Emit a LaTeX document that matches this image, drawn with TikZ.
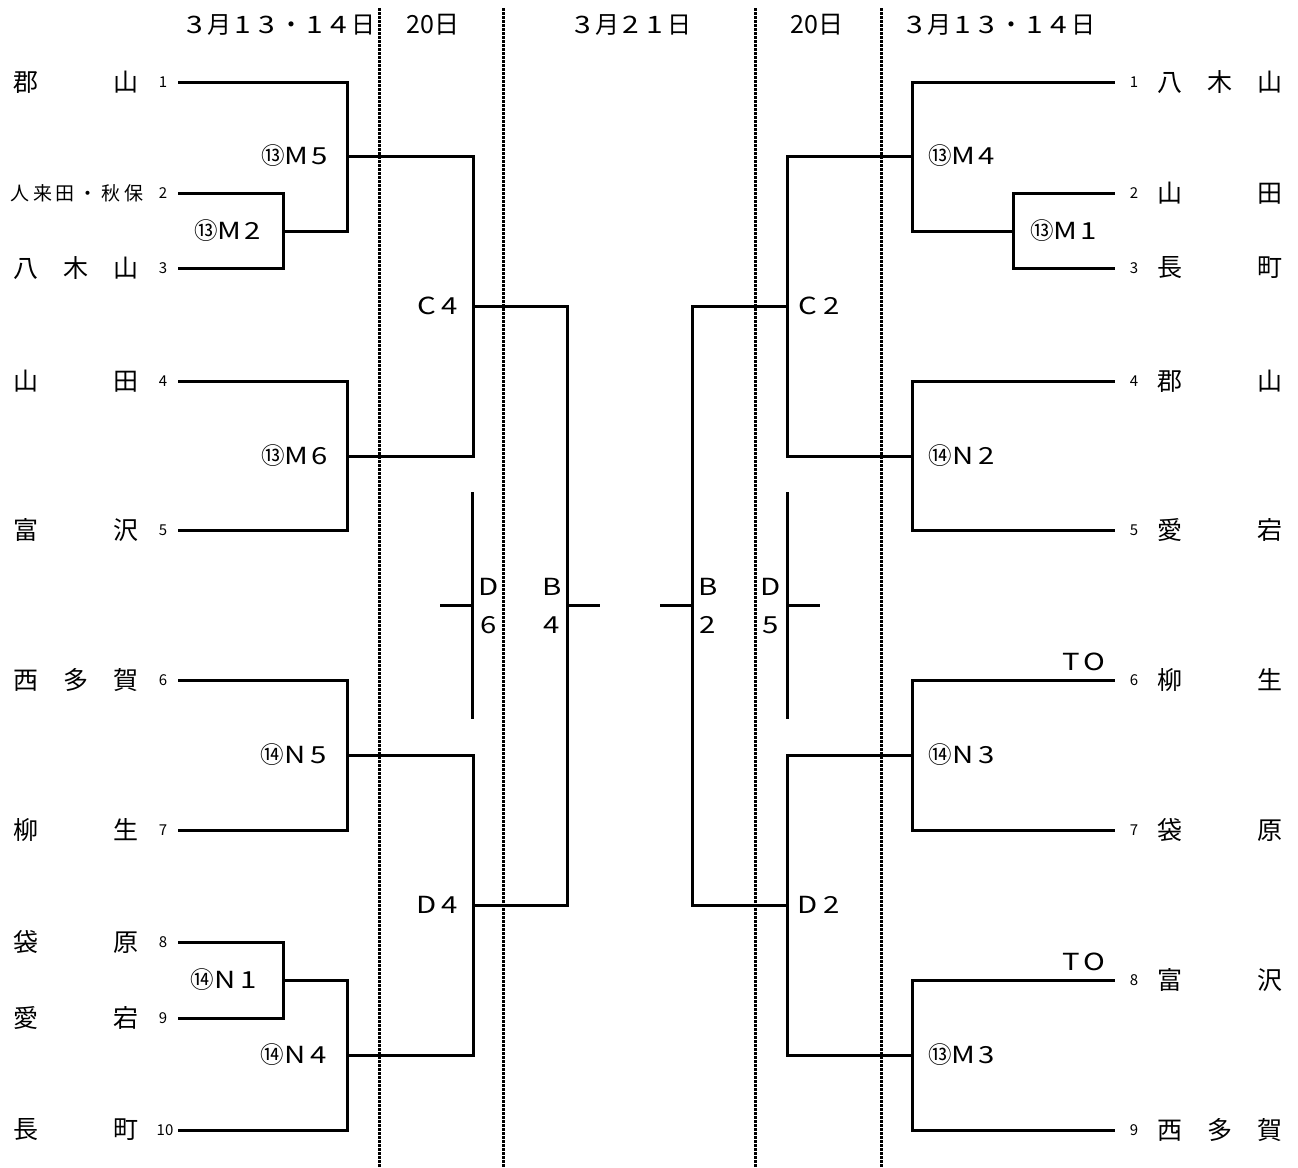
\documentclass[tikz,border=0pt]{standalone}
\usepackage{fontspec}
\setmainfont{Noto Sans CJK JP}
\newfontfamily\widefnt[FakeStretch=1.25]{Noto Sans CJK JP}
\newcommand{\fw}[1]{\makebox[1em]{\widefnt #1}}
\newcommand{\spr}[2]{\hbox to #1pt{#2}}
\newcommand{\twoL}[2]{\hbox to 125pt{#1\hfill #2}}
\newcommand{\threeL}[3]{\hbox to 125pt{#1\hfill #2\hfill #3}}
\begin{document}
\begin{tikzpicture}[x=1pt,y=-1pt,
  br/.style={line width=3pt,line join=miter,line cap=rect},
  dotline/.style={line width=3pt,dash pattern=on 2.5pt off 1.5pt},
  lbl/.style={font=\fontsize{23.5}{26}\selectfont,inner sep=0pt},
  hdr/.style={font=\fontsize{24}{28}\selectfont,inner sep=0pt},
  tnum/.style={font=\fontsize{15}{17}\selectfont,inner sep=0pt},
  tname/.style={font=\fontsize{25}{28}\selectfont,inner sep=0pt,anchor=west},
  small/.style={font=\fontsize{19}{22}\selectfont,inner sep=0pt,anchor=west}]
\useasboundingbox (0,0) rectangle (1298,1167);
% dotted separators
\foreach \xx/\nm in {379/s1,503/s2,755/s3,881/s4}{
  \coordinate (\nm t) at (\xx,8);
  \coordinate (\nm b) at (\xx,1167);
  \draw[dotline] (\nm t) -- (\nm b);
}
% headers
\node[hdr] (h1) at (279,25) {\fw{3}月\fw{1}\fw{3}・\fw{1}\fw{4}日};
\node[hdr,font=\fontsize{25}{28}\selectfont] (h2) at (433,25) {20日};
\node[hdr] (h3) at (631,25) {\fw{3}月\fw{2}\fw{1}日};
\node[hdr,font=\fontsize{25}{28}\selectfont] (h4) at (817,25) {20日};
\node[hdr] (h5) at (999,25) {\fw{3}月\fw{1}\fw{3}・\fw{1}\fw{4}日};
% left team names
\node[tname] (tl1) at (13,82) {\twoL{郡}{山}};
\node[small] (tl2) at (10,193) {\spr{133}{人\hfil 来\hfil 田\hfil ・\hfil 秋\hfil 保}};
\node[tname] (tl3) at (13,268) {\threeL{八}{木}{山}};
\node[tname] (tl4) at (13,381) {\twoL{山}{田}};
\node[tname] (tl5) at (13,530) {\twoL{富}{沢}};
\node[tname] (tl6) at (13,680) {\threeL{西}{多}{賀}};
\node[tname] (tl7) at (13,830) {\twoL{柳}{生}};
\node[tname] (tl8) at (13,942) {\twoL{袋}{原}};
\node[tname] (tl9) at (13,1018) {\twoL{愛}{宕}};
\node[tname] (tl10) at (13,1130) {\twoL{長}{町}};
% left numbers
\foreach \n/\yy in {1/82,2/193,3/268,4/381,5/530,6/680,7/830,8/942,9/1018}{
  \node[tnum] (nl\n) at (163,\yy) {\n};
  \coordinate (L\n) at (179,\yy);
}
\node[tnum] (nl10) at (165,1130) {10};
\coordinate (L10) at (179,1130);
% right team names
\node[tname] (tr1) at (1157,82) {\threeL{八}{木}{山}};
\node[tname] (tr2) at (1157,193) {\twoL{山}{田}};
\node[tname] (tr3) at (1157,268) {\twoL{長}{町}};
\node[tname] (tr4) at (1157,381) {\twoL{郡}{山}};
\node[tname] (tr5) at (1157,530) {\twoL{愛}{宕}};
\node[tname] (tr6) at (1157,680) {\twoL{柳}{生}};
\node[tname] (tr7) at (1157,830) {\twoL{袋}{原}};
\node[tname] (tr8) at (1157,980) {\twoL{富}{沢}};
\node[tname] (tr9) at (1157,1130) {\threeL{西}{多}{賀}};
\foreach \n/\yy in {1/82,2/193,3/268,4/381,5/530,6/680,7/830,8/980,9/1130}{
  \node[tnum] (nr\n) at (1134,\yy) {\n};
  \coordinate (R\n) at (1113,\yy);
}
% left junctions
\coordinate (m2) at (283,231);
\coordinate (m5) at (347,156);
\coordinate (m6) at (347,456);
\coordinate (n5) at (347,755);
\coordinate (n1) at (283,980);
\coordinate (n4) at (347,1055);
\coordinate (c4) at (473,306);
\coordinate (d4) at (473,905);
\coordinate (b4) at (567,605);
\coordinate (b4e) at (598,605);
\coordinate (d6t) at (472,493);
\coordinate (d6b) at (472,717);
\coordinate (d6m) at (472,605);
\coordinate (d6e) at (441,605);
\draw[br] (L1) -| (m5) |- (m2);
\draw[br] (L2) -| (m2) |- (L3);
\draw[br] (L4) -| (m6) |- (L5);
\draw[br] (L6) -| (n5) |- (L7);
\draw[br] (L8) -| (n1) |- (L9);
\draw[br] (n1) -| (n4) |- (L10);
\draw[br] (m5) -| (c4) |- (m6);
\draw[br] (n5) -| (d4) |- (n4);
\draw[br] (c4) -| (b4) |- (d4);
\draw[br] (b4) -- (b4e);
\draw[br] (d6t) -- (d6b);
\draw[br] (d6e) -- (d6m);
% right junctions
\coordinate (m1) at (1013,231);
\coordinate (m4) at (912,156);
\coordinate (n2) at (912,456);
\coordinate (n3) at (912,755);
\coordinate (m3) at (912,1055);
\coordinate (c2) at (787,306);
\coordinate (d2) at (787,905);
\coordinate (b2) at (692,605);
\coordinate (b2e) at (661,605);
\coordinate (d5t) at (787,493);
\coordinate (d5b) at (787,717);
\coordinate (d5m) at (787,605);
\coordinate (d5e) at (818,605);
\draw[br] (R1) -| (m4) |- (m1);
\draw[br] (R2) -| (m1) |- (R3);
\draw[br] (R4) -| (n2) |- (R5);
\draw[br] (R6) -| (n3) |- (R7);
\draw[br] (R8) -| (m3) |- (R9);
\draw[br] (m4) -| (c2) |- (n2);
\draw[br] (n3) -| (d2) |- (m3);
\draw[br] (c2) -| (b2) |- (d2);
\draw[br] (b2) -- (b2e);
\draw[br] (d5t) -- (d5b);
\draw[br] (d5m) -- (d5e);
% match labels left
\node[lbl,anchor=east] (lm5) at (332,156) {⑬\fw{M}\fw{5}};
\node[lbl,anchor=east] (lm2) at (265,231) {⑬\fw{M}\fw{2}};
\node[lbl,anchor=east] (lc4) at (462,306) {\fw{C}\fw{4}};
\node[lbl,anchor=east] (lm6) at (332,456) {⑬\fw{M}\fw{6}};
\node[lbl,anchor=east] (ln5) at (331,755) {⑭\fw{N}\fw{5}};
\node[lbl,anchor=east] (ld4) at (462,905) {\fw{D}\fw{4}};
\node[lbl,anchor=east] (ln1) at (261,980) {⑭\fw{N}\fw{1}};
\node[lbl,anchor=east] (ln4) at (331,1055) {⑭\fw{N}\fw{4}};
\node[lbl] (ld6a) at (489,587) {\fw{D}};
\node[lbl] (ld6b) at (489,625) {\fw{6}};
\node[lbl] (lb4a) at (552,587) {\fw{B}};
\node[lbl] (lb4b) at (552,625) {\fw{4}};
% match labels right
\node[lbl,anchor=west] (rm4) at (928,156) {⑬\fw{M}\fw{4}};
\node[lbl,anchor=west] (rm1) at (1030,231) {⑬\fw{M}\fw{1}};
\node[lbl,anchor=west] (rc2) at (796,306) {\fw{C}\fw{2}};
\node[lbl,anchor=west] (rn2) at (928,456) {⑭\fw{N}\fw{2}};
\node[lbl,anchor=west] (rn3) at (928,755) {⑭\fw{N}\fw{3}};
\node[lbl,anchor=west] (rd2) at (796,905) {\fw{D}\fw{2}};
\node[lbl,anchor=west] (rm3) at (928,1055) {⑬\fw{M}\fw{3}};
\node[lbl] (lb2a) at (708,587) {\fw{B}};
\node[lbl] (lb2b) at (708,625) {\fw{2}};
\node[lbl] (ld5a) at (771,587) {\fw{D}};
\node[lbl] (ld5b) at (771,625) {\fw{5}};
\node[lbl] (to1) at (1083,662) {\fw{T}\fw{O}};
\node[lbl] (to2) at (1083,962) {\fw{T}\fw{O}};
\end{tikzpicture}
\end{document}
